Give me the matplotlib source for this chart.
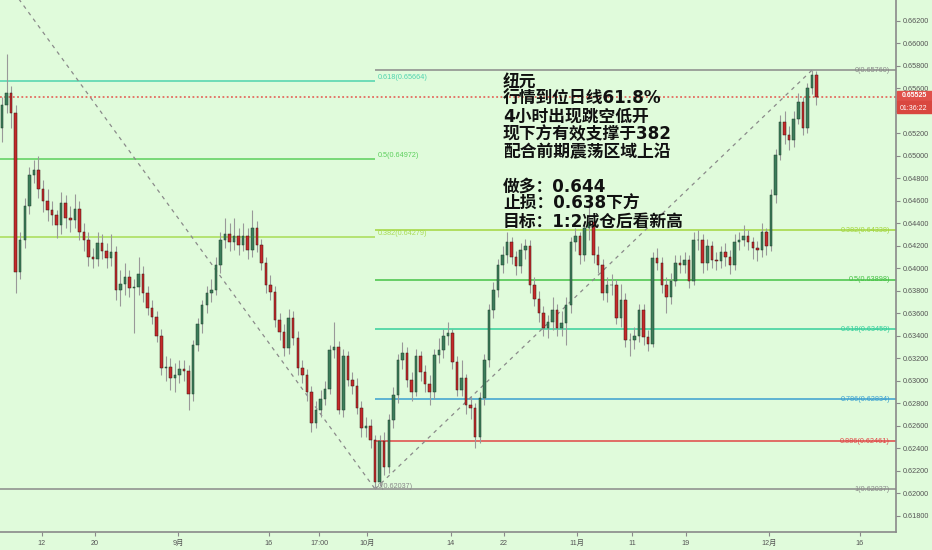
import matplotlib
matplotlib.use("Agg")
import matplotlib.pyplot as plt
from matplotlib.patches import Rectangle
import numpy as np

# ---------------- data (prices in pips, i.e. price * 10000) ----------------
opens = [6525, 6545, 6556, 6538, 6397, 6425, 6455, 6483, 6487, 6470,
         6460, 6452, 6447, 6438, 6458, 6445, 6443, 6453, 6432, 6425,
         6410, 6408, 6422, 6415, 6409, 6414, 6381, 6386, 6392, 6382,
         6383, 6395, 6378, 6365, 6357, 6340, 6311, 6312, 6302, 6305,
         6310, 6309, 6288, 6332, 6350, 6367, 6378, 6381, 6403, 6425,
         6430, 6423, 6429, 6421, 6429, 6416, 6436, 6421, 6405, 6385,
         6379, 6354, 6343, 6329, 6356, 6338, 6311, 6305, 6290, 6262,
         6274, 6284, 6293, 6327, 6330, 6274, 6322, 6301, 6295, 6276,
         6258, 6260, 6247, 6210, 6246, 6223, 6265, 6287, 6318, 6325,
         6301, 6290, 6322, 6308, 6297, 6290, 6323, 6327, 6340, 6342,
         6317, 6292, 6302, 6278, 6276, 6250, 6285, 6318, 6363, 6381,
         6403, 6412, 6423, 6410, 6402, 6416, 6420, 6385, 6373, 6360,
         6347, 6352, 6363, 6347, 6351, 6367, 6423, 6429, 6412, 6436,
         6441, 6412, 6403, 6378, 6385, 6385, 6356, 6372, 6336, 6336,
         6340, 6363, 6339, 6333, 6409, 6405, 6385, 6374, 6389, 6405,
         6403, 6407, 6389, 6425, 6425, 6405, 6420, 6407, 6406, 6414,
         6410, 6403, 6423, 6425, 6429, 6423, 6418, 6416, 6432, 6420,
         6465, 6501, 6530, 6518, 6514, 6533, 6548, 6525, 6560, 6572]
closes = [6545, 6556, 6538, 6397, 6425, 6455, 6483, 6487, 6470, 6460,
          6452, 6447, 6438, 6458, 6445, 6443, 6453, 6432, 6425, 6410,
          6408, 6422, 6415, 6409, 6414, 6381, 6386, 6392, 6382, 6383,
          6395, 6378, 6365, 6357, 6340, 6311, 6312, 6302, 6305, 6310,
          6309, 6288, 6332, 6350, 6367, 6378, 6381, 6403, 6425, 6430,
          6423, 6429, 6421, 6429, 6416, 6436, 6421, 6405, 6385, 6379,
          6354, 6343, 6329, 6356, 6338, 6311, 6305, 6290, 6262, 6274,
          6284, 6293, 6327, 6330, 6274, 6322, 6301, 6295, 6276, 6258,
          6260, 6247, 6210, 6246, 6223, 6265, 6287, 6318, 6325, 6301,
          6290, 6322, 6308, 6297, 6290, 6323, 6327, 6340, 6342, 6317,
          6292, 6302, 6278, 6276, 6250, 6285, 6318, 6363, 6381, 6403,
          6412, 6423, 6410, 6402, 6416, 6420, 6385, 6373, 6360, 6347,
          6352, 6363, 6347, 6351, 6367, 6423, 6429, 6412, 6436, 6441,
          6412, 6403, 6378, 6385, 6385, 6356, 6372, 6336, 6336, 6340,
          6363, 6339, 6333, 6409, 6405, 6385, 6374, 6389, 6405, 6403,
          6407, 6389, 6425, 6425, 6405, 6420, 6407, 6406, 6414, 6410,
          6403, 6423, 6425, 6429, 6423, 6418, 6416, 6432, 6420, 6465,
          6501, 6530, 6518, 6514, 6533, 6548, 6525, 6560, 6572, 6552.5]
highs = [6552, 6590, 6562, 6545, 6432, 6462, 6490, 6496, 6500, 6478,
         6470, 6460, 6452, 6468, 6465, 6455, 6466, 6460, 6440, 6432,
         6418, 6432, 6430, 6422, 6430, 6420, 6398, 6405, 6398, 6390,
         6410, 6402, 6384, 6372, 6362, 6346, 6322, 6320, 6316, 6318,
         6318, 6314, 6336, 6356, 6372, 6384, 6390, 6410, 6432, 6445,
         6440, 6445, 6436, 6440, 6436, 6452, 6442, 6426, 6410, 6394,
         6384, 6360, 6350, 6364, 6362, 6344, 6318, 6310, 6295, 6282,
         6292, 6300, 6332, 6352, 6335, 6328, 6326, 6308, 6302, 6282,
         6268, 6266, 6252, 6252, 6254, 6270, 6294, 6324, 6334, 6330,
         6308, 6328, 6326, 6314, 6305, 6328, 6338, 6346, 6352, 6346,
         6322, 6318, 6306, 6286, 6280, 6290, 6324, 6368, 6388, 6408,
         6420, 6432, 6428, 6415, 6422, 6426, 6425, 6392, 6380, 6366,
         6358, 6374, 6368, 6362, 6374, 6428, 6436, 6432, 6442, 6458,
         6446, 6420, 6408, 6392, 6395, 6390, 6386, 6378, 6342, 6348,
         6368, 6368, 6345, 6414, 6418, 6410, 6392, 6396, 6412, 6412,
         6414, 6412, 6432, 6434, 6430, 6426, 6424, 6414, 6420, 6422,
         6416, 6430, 6432, 6438, 6434, 6428, 6424, 6440, 6436, 6470,
         6506, 6536, 6540, 6526, 6540, 6556, 6552, 6565, 6576, 6575]
lows = [6512, 6538, 6525, 6378, 6390, 6418, 6448, 6476, 6462, 6450,
        6442, 6438, 6427, 6430, 6436, 6432, 6436, 6425, 6415, 6402,
        6400, 6402, 6408, 6400, 6402, 6372, 6366, 6376, 6374, 6342,
        6376, 6370, 6358, 6350, 6334, 6305, 6300, 6292, 6290, 6298,
        6300, 6274, 6282, 6326, 6342, 6360, 6370, 6376, 6396, 6418,
        6415, 6416, 6412, 6415, 6408, 6410, 6414, 6398, 6378, 6372,
        6348, 6336, 6322, 6324, 6332, 6305, 6298, 6282, 6254, 6258,
        6268, 6278, 6288, 6320, 6270, 6268, 6295, 6288, 6270, 6250,
        6250, 6240, 6204, 6206, 6216, 6218, 6258, 6280, 6310, 6294,
        6282, 6286, 6300, 6290, 6278, 6284, 6316, 6320, 6332, 6310,
        6286, 6286, 6270, 6266, 6240, 6245, 6278, 6312, 6356, 6374,
        6396, 6405, 6404, 6394, 6396, 6408, 6378, 6366, 6352, 6340,
        6338, 6345, 6340, 6340, 6332, 6360, 6415, 6404, 6406, 6425,
        6405, 6396, 6372, 6370, 6376, 6350, 6348, 6330, 6322, 6328,
        6334, 6332, 6326, 6330, 6398, 6378, 6360, 6368, 6384, 6396,
        6396, 6382, 6385, 6416, 6396, 6398, 6400, 6398, 6400, 6402,
        6395, 6398, 6416, 6420, 6416, 6408, 6406, 6410, 6412, 6415,
        6458, 6496, 6510, 6505, 6508, 6528, 6518, 6520, 6555, 6545]

last_price = 0.65525
countdown = "01:36:22"

# Fibonacci retracement tools
fib_left_levels = ["0.618", "0.5", "0.382", "0"]
fib_left_prices = [0.65664, 0.64972, 0.64279, 0.62037]
fib_left_anchor_prices = [0.67906, 0.62037]   # high -> low
fib_right_levels = ["0", "0.382", "0.5", "0.618", "0.786", "0.886", "1"]
fib_right_prices = [0.65760, 0.64338, 0.63898, 0.63459, 0.62834, 0.62461, 0.62037]
fib_right_anchor_prices = [0.62037, 0.65760]  # low -> high

xtick_labels = ["12", "20", "9月", "16", "17:00", "10月", "14", "22",
                "11月", "11", "19", "12月", "16"]

note_lines = ["纽元", "行情到位日线61.8%", "4小时出现跳空低开", "现下方有效支撑于382",
              "配合前期震荡区域上沿", "", "做多：0.644", "止损：0.638下方",
              "目标：1:2减仓后看新高"]

# ---------------- layout / style ----------------
W, H, DPI = 932, 550, 100
BG = "#e0fbdb"
UP = "#3c7d5a"
DOWN = "#c42a2a"
GRAY = "#8a8a8a"
left_colors = ["#4fd3ae", "#5ccf5c", "#a9dc55", GRAY]
right_colors = [GRAY, "#a3d63e", "#45c245", "#36cf9c", "#3a9fd0", "#e04646", GRAY]

xtick_pos = [8.70, 20.44, 38.68, 58.68, 69.67, 80.22, 98.68, 110.22,
             126.37, 138.46, 150.22, 168.57, 188.57]
XLIM = (-0.44, 196.48)
YLIM = (0.61655, 0.66384)
FIB_SPLIT = 82.0
LEFT_START = -23.5
RIGHT_END = 178.0

plt.rcParams["font.family"] = ["Liberation Sans", "Noto Sans CJK SC", "DejaVu Sans"]

fig = plt.figure(figsize=(W / DPI, H / DPI), dpi=DPI, facecolor=BG)
ax = fig.add_axes([0, 18 / H, 896 / W, 532 / H])
ax.set_facecolor(BG)

o = np.array(opens, dtype=float) / 1e4
c = np.array(closes, dtype=float) / 1e4
hi = np.array(highs, dtype=float) / 1e4
lo = np.array(lows, dtype=float) / 1e4
x = np.arange(len(c))

# fib lines
for lvl, p, col in zip(fib_left_levels, fib_left_prices, left_colors):
    ax.hlines(p, XLIM[0], FIB_SPLIT, color=col, lw=1.1, zorder=1)
    ax.annotate(f"{lvl}({p:.5f})", (FIB_SPLIT, p), xytext=(3, 3),
                textcoords="offset pixels", ha="left", va="center",
                fontsize=5.2, color=col, zorder=1)
for lvl, p, col in zip(fib_right_levels, fib_right_prices, right_colors):
    ax.hlines(p, FIB_SPLIT, XLIM[1], color=col, lw=1.1, zorder=1)
    ax.annotate(f"{lvl}({p:.5f})", (XLIM[1], p), xytext=(-6, 0),
                textcoords="offset pixels", ha="right", va="center",
                fontsize=5.2, color=col, zorder=1)

ax.plot([LEFT_START, FIB_SPLIT], fib_left_anchor_prices, color=GRAY,
        lw=0.9, ls=(0, (3, 3.5)), zorder=1)
ax.plot([FIB_SPLIT, RIGHT_END], fib_right_anchor_prices, color=GRAY,
        lw=0.9, ls=(0, (3, 3.5)), zorder=1)

# last price dotted line
ax.axhline(last_price, color="#e5534b", lw=1.1, ls=(0, (1.2, 1.6)), zorder=1)

# candles
ax.vlines(x, lo, hi, color="#999999", lw=0.8, zorder=2)
up = c >= o
bottom = np.minimum(o, c)
height = np.maximum(np.abs(c - o), 0.00005)
ax.bar(x[up], height[up], bottom=bottom[up], width=0.55, color=UP,
       edgecolor="#1f3d2c", linewidth=0.35, zorder=3)
ax.bar(x[~up], height[~up], bottom=bottom[~up], width=0.55, color=DOWN,
       edgecolor="#3a1414", linewidth=0.35, zorder=3)

ax.set_xlim(*XLIM)
ax.set_ylim(*YLIM)

# price-axis ticks; the 0.654 label sits under the countdown box, so it is hidden
yt = np.arange(0.618, 0.6621, 0.002)
ylabels = ["" if abs(v - 0.654) < 1e-6 else f"{v:.5f}" for v in yt]
ax.set_yticks(yt, ylabels)
ax.set_xticks(xtick_pos, xtick_labels)
ax.yaxis.tick_right()
ax.tick_params(axis="y", length=3, width=0.8, color=GRAY, labelsize=5.2,
               labelcolor="#555555", pad=2)
ax.tick_params(axis="x", length=3, width=0.8, color=GRAY, labelsize=5.2,
               labelcolor="#555555", pad=3)
for s in ["top", "left"]:
    ax.spines[s].set_visible(False)
for s in ["right", "bottom"]:
    ax.spines[s].set_color(GRAY)
    ax.spines[s].set_linewidth(1.2)

# price label boxes on the right axis
fig.add_artist(Rectangle((897 / W, 1 - 100.5 / H), 35 / W, 9.8 / H,
                         transform=fig.transFigure, color="#e0504a", zorder=5))
fig.add_artist(Rectangle((897 / W, 1 - 113.5 / H), 35 / W, 12 / H,
                         transform=fig.transFigure, color="#d9473f", zorder=5))
fig.text(914 / W, 1 - 95.2 / H, f"{last_price:.5f}", color="white",
         fontsize=5.0, ha="center", va="center", zorder=6, fontweight="bold")
fig.text(914 / W, 1 - 108.2 / H, countdown, color="white",
         fontsize=5.0, ha="center", va="center", zorder=6)

# annotation text
for k, line in enumerate(note_lines):
    if not line:
        continue
    fig.text(503 / W, 1 - (81.7 + 17.5 * k) / H, line, fontsize=12.1,
             fontweight="bold", family=["DejaVu Sans", "Noto Sans CJK SC"],
             ha="left", va="center", color="#111111", zorder=10)

fig.savefig("out.png", dpi=DPI, facecolor=BG)
